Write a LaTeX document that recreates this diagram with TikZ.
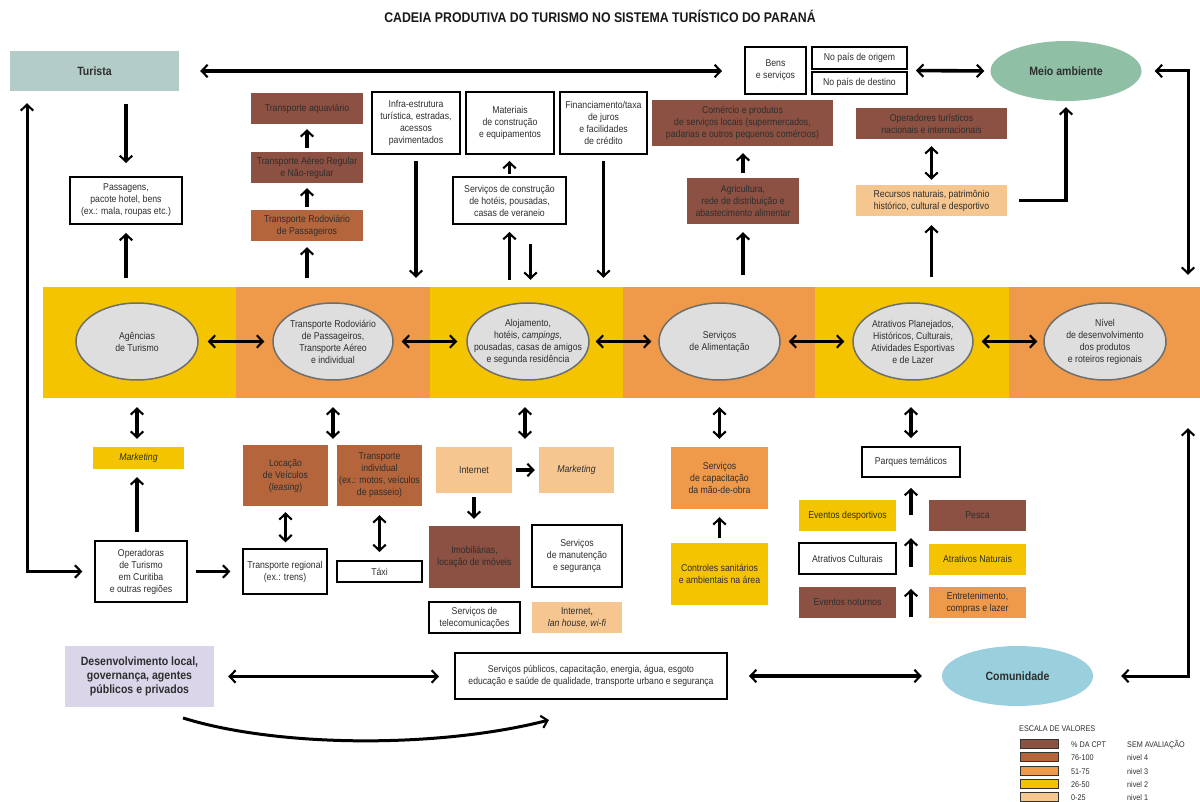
\documentclass[tikz,border=0pt]{standalone}
\usepackage{fontspec}
\setmainfont{Liberation Sans}[FakeStretch=0.88]
\usetikzlibrary{arrows.meta,shapes.geometric,calc}
\definecolor{txt}{HTML}{2E2E2E}
\definecolor{turC}{RGB}{180,204,200}
\definecolor{meioC}{RGB}{143,191,164}
\definecolor{comC}{RGB}{154,208,221}
\definecolor{desC}{RGB}{218,213,233}
\definecolor{brownC}{RGB}{140,81,66}
\definecolor{rustC}{RGB}{181,101,59}
\definecolor{orangeC}{RGB}{239,154,74}
\definecolor{yellowC}{RGB}{245,196,0}
\definecolor{peachC}{RGB}{245,198,144}
\definecolor{ellfill}{RGB}{222,222,222}
\definecolor{ellline}{RGB}{110,110,110}
\newcommand\fsn{\fontsize{9.9}{12}\selectfont}
\newcommand\fsb{\fontsize{12}{14}\selectfont\bfseries}
\tikzset{chev/.tip={Straight Barb[length=6pt,width=12.5pt,line width=2.1pt]}}
\begin{document}
\begin{tikzpicture}[x=1pt,y=-1pt,
  every node/.style={text=txt, align=center, inner sep=1pt, font=\fsn},
  bx/.style={rectangle, draw=black, line width=1.9pt, fill=white},
  tbx/.style={rectangle, draw=black, line width=1.2pt, fill=white},
  cbx/.style={rectangle, fill=#1},
  sz/.style n args={2}{minimum width=#1pt, minimum height=#2pt},
  ell/.style={ellipse, draw=ellline, line width=1.5pt, fill=ellfill},
  band/.style={rectangle, fill=#1, minimum height=111pt, inner sep=0pt},
  arr/.style={line width=3.6pt, -{chev}},
  darr/.style={line width=3.6pt, {chev}-{chev}},
  swatch/.style={rectangle, fill=#1, draw=black!80, line width=0.8pt, minimum width=38pt, minimum height=9pt, inner sep=0pt},
  legt/.style={anchor=west, font=\fontsize{8.2}{9}\selectfont, inner sep=0pt},
]
\useasboundingbox (0,0) rectangle (1200,802);

% title
\node[font=\fontsize{14}{16}\selectfont\bfseries, text=black!90] (title) at (600,16) {CADEIA PRODUTIVA DO TURISMO NO SISTEMA TURÍSTICO DO PARANÁ};

% band
\node[band=yellowC, minimum width=193pt] (b1) at (139.5,342.5) {};
\node[band=orangeC, minimum width=194pt] (b2) at (333,342.5) {};
\node[band=yellowC, minimum width=193pt] (b3) at (526.5,342.5) {};
\node[band=orangeC, minimum width=192pt] (b4) at (719,342.5) {};
\node[band=yellowC, minimum width=194pt] (b5) at (912,342.5) {};
\node[band=orangeC, minimum width=191pt] (b6) at (1104.5,342.5) {};

% ellipses in band
\node[ell, sz={122}{77}, label={[name=e1t]center:{Agências\\de Turismo}}] (e1) at (137,341.5) {};
\node[ell, sz={120}{77}, label={[name=e2t]center:{Transporte Rodoviário\\de Passageiros,\\Transporte Aéreo\\e individual}}] (e2) at (333,341.5) {};
\node[ell, sz={122}{77}, label={[name=e3t]center:{Alojamento,\\hotéis, \textit{campings},\\pousadas, casas de amigos\\e segunda residência}}] (e3) at (528,341.5) {};
\node[ell, sz={121}{77}, label={[name=e4t]center:{Serviços\\de Alimentação}}] (e4) at (719.5,341.5) {};
\node[ell, sz={120}{77}, label={[name=e5t]center:{Atrativos Planejados,\\Históricos, Culturais,\\Atividades Esportivas\\e de Lazer}}] (e5) at (913,341.5) {};
\node[ell, sz={122}{77}, label={[name=e6t]center:{Nível\\de desenvolvimento\\dos produtos\\e roteiros regionais}}] (e6) at (1105,341.5) {};

% top row
\node[cbx=turC, sz={169}{40}, font=\fsb] (turista) at (94.5,71) {Turista};
\node[bx, sz={61}{47}] (bens) at (775.5,70.5) {Bens\\e serviços};
\node[bx, sz={95}{22}] (origem) at (859.5,58) {No país de origem};
\node[bx, sz={95}{22}] (destino) at (859.5,83) {No país de destino};
\node[ellipse, fill=meioC, sz={151}{60}, font=\fsb] (meio) at (1066,71) {Meio ambiente};

% upper boxes
\node[bx, sz={112}{47}] (passagens) at (126,200.5) {Passagens,\\pacote hotel, bens\\(ex.: mala, roupas etc.)};
\node[cbx=brownC, sz={112}{31}] (aqua) at (307,108.5) {Transporte aquaviário};
\node[cbx=brownC, sz={112}{31}] (aereo) at (307,167.5) {Transporte Aéreo Regular\\e Não-regular};
\node[cbx=rustC, sz={112}{31}] (rodov) at (307,225.5) {Transporte Rodoviário\\de Passageiros};
\node[bx, sz={88}{62}] (infra) at (416,123) {Infra-estrutura\\turística, estradas,\\acessos\\pavimentados};
\node[bx, sz={88}{62}] (materiais) at (510,123) {Materiais\\de construção\\e equipamentos};
\node[bx, sz={87}{62}] (financ) at (603.5,123) {Financiamento/taxa\\de juros\\e facilidades\\de crédito};
\node[bx, sz={113}{47}] (servconstr) at (509.5,200.5) {Serviços de construção\\de hotéis, pousadas,\\casas de veraneio};
\node[cbx=brownC, sz={181}{46}] (comercio) at (742.5,123) {Comércio e produtos\\de serviços locais (supermercados,\\padarias e outros pequenos comércios)};
\node[cbx=brownC, sz={112}{46}] (agric) at (743,201) {Agricultura,\\rede de distribuição e\\abastecimento alimentar};
\node[cbx=brownC, sz={151}{31}] (operadores) at (931.5,123.5) {Operadores turísticos\\nacionais e internacionais};
\node[cbx=peachC, sz={151}{31}] (recursos) at (931.5,200.5) {Recursos naturais, patrimônio\\histórico, cultural e desportivo};

% lower boxes
\node[cbx=yellowC, sz={91}{22}] (mkt1) at (138.5,458) {\textit{Marketing}};
\node[tbx, sz={92}{61}] (operadoras) at (141,571.5) {Operadoras\\de Turismo\\em Curitiba\\e outras regiões};
\node[cbx=rustC, sz={85}{61}] (locacao) at (285.5,475.5) {Locação\\de Veículos\\(\textit{leasing})};
\node[cbx=rustC, sz={85}{61}] (transind) at (379.5,475.5) {Transporte\\individual\\(ex.: motos, veículos\\de passeio)};
\node[tbx, sz={84}{45}] (transreg) at (285,571.5) {Transporte regional\\(ex.: trens)};
\node[bx, sz={85}{21}] (taxi) at (379.5,571.5) {Táxi};
\node[cbx=peachC, sz={76}{46}] (internet) at (474,470) {Internet};
\node[cbx=peachC, sz={75}{46}] (mkt2) at (576.5,470) {\textit{Marketing}};
\node[cbx=brownC, sz={91}{62}] (imob) at (474.5,557) {Imobiliárias,\\locação de imóveis};
\node[tbx, sz={90}{62}] (manut) at (577,556) {Serviços\\de manutenção\\e segurança};
\node[bx, sz={91}{31}] (telecom) at (474.5,617.5) {Serviços de\\telecomunicações};
\node[cbx=peachC, sz={90}{31}] (lan) at (577,617.5) {Internet,\\\textit{lan house, wi-fi}};
\node[cbx=orangeC, sz={97}{62}] (capacit) at (719.5,478) {Serviços\\de capacitação\\da mão-de-obra};
\node[cbx=yellowC, sz={97}{62}] (controles) at (719.5,574) {Controles sanitários\\e ambientais na área};
\node[bx, sz={98}{30}] (parques) at (911,462) {Parques temáticos};
\node[cbx=yellowC, sz={97}{31}] (evdesp) at (847.5,515.5) {Eventos desportivos};
\node[cbx=brownC, sz={97}{31}] (pesca) at (977.5,515.5) {Pesca};
\node[bx, sz={97}{31}] (atcult) at (847.5,558.5) {Atrativos Culturais};
\node[cbx=yellowC, sz={97}{31}] (atnat) at (977.5,559) {Atrativos Naturais};
\node[cbx=brownC, sz={97}{31}] (evnot) at (847.5,602.5) {Eventos noturnos};
\node[cbx=orangeC, sz={97}{31}] (entret) at (977.5,602.5) {Entretenimento,\\compras e lazer};

% bottom row
\node[cbx=desC, sz={149}{61}, font=\fsb] (desenv) at (139.5,676.5) {Desenvolvimento local,\\governança, agentes\\públicos e privados};
\node[bx, sz={272}{46}, font=\fontsize{9.8}{11.2}\selectfont] (servpub) at (591,676) {Serviços públicos, capacitação, energia, água, esgoto\\educação e saúde de qualidade, transporte urbano e segurança};
\node[ellipse, fill=comC, sz={151}{60}, font=\fsb] (comunidade) at (1017.5,676) {Comunidade};

% coordinates for path corners and free ends
\coordinate (lc) at (27,571.5);
\coordinate (rc1) at (1188,71);
\coordinate (rc2) at (1188,676);
\coordinate (cvs) at (183,718);
\coordinate (cve) at (549,720);

% ---- connectors: top
\draw[darr, shorten <=21pt, shorten >=22pt] (turista.east) -- (turista.east -| bens.west);
\draw[darr, shorten <=8pt, shorten >=6pt] (origem.east |- bens.east) -- (meio.west);
\draw[darr, line width=3pt, shorten <=13pt, shorten >=12pt] (meio.east) -- (rc1) -- (rc1 |- b6.north);
\draw[arr, shorten <=13pt, shorten >=13pt] (passagens.north |- turista.south) -- (passagens.north);
\draw[arr, shorten <=9pt, shorten >=8pt] (passagens.south |- b1.north) -- (passagens.south);
\draw[darr, line width=3pt, shorten <=12pt, shorten >=12pt] (turista.south -| lc) -- (lc) -- (operadoras.west);

\draw[arr, shorten <=9pt, shorten >=6pt] (rodov.south |- b2.north) -- (rodov.south);
\draw[arr, shorten <=3pt, shorten >=5pt] (rodov.north) -- (aereo.south);
\draw[arr, shorten <=4pt, shorten >=5pt] (aereo.north) -- (aqua.south);

\draw[arr, shorten <=6pt, shorten >=9pt] (infra.south) -- (infra.south |- b2.north);
\draw[arr, shorten <=2pt, shorten >=6pt] (servconstr.north) -- (servconstr.north |- materiais.south);
\draw[arr, shorten <=7pt, shorten >=7pt] (servconstr.south |- b3.north) -- (servconstr.south);
\draw[arr, shorten <=19pt, shorten >=7pt] ([xshift=21pt]servconstr.south) -- ([xshift=21pt]servconstr.south |- b3.north);
\draw[arr, shorten <=6pt, shorten >=9pt] (financ.south) -- (financ.south |- b3.north);

\draw[arr, shorten <=12pt, shorten >=8pt] (agric.south |- b4.north) -- (agric.south);
\draw[arr, shorten <=5pt, shorten >=7pt] (agric.north) -- (agric.north |- comercio.south);
\draw[arr, shorten <=10pt, shorten >=9pt] (recursos.south |- b5.north) -- (recursos.south);
\draw[darr, shorten <=7pt, shorten >=5pt] (operadores.south) -- (recursos.north);
\draw[arr, shorten <=12pt, shorten >=6pt] (recursos.east) -| (meio.south);

% ---- connectors: band
\draw[darr, shorten <=9pt, shorten >=8pt] (e1.east) -- (e2.west);
\draw[darr, shorten <=8pt, shorten >=9pt] (e2.east) -- (e3.west);
\draw[darr, shorten <=6pt, shorten >=7pt] (e3.east) -- (e4.west);
\draw[darr, shorten <=8pt, shorten >=8pt] (e4.east) -- (e5.west);
\draw[darr, shorten <=8pt, shorten >=6pt] (e5.east) -- (e6.west);

% ---- connectors: below band
\draw[darr, shorten <=9pt, shorten >=8pt] (e1.south |- b1.south) -- (e1.south |- mkt1.north);
\draw[darr, shorten <=9pt, shorten >=6pt] (e2.south |- b2.south) -- (e2.south |- locacao.north);
\draw[darr, shorten <=9pt, shorten >=8pt] ([xshift=-3pt]e3.south |- b3.south) -- ([xshift=-3pt]e3.south |- internet.north);
\draw[darr, shorten <=9pt, shorten >=8pt] (capacit.north |- b4.south) -- (capacit.north);
\draw[darr, shorten <=9pt, shorten >=8pt] (parques.north |- b5.south) -- (parques.north);

\draw[arr, shorten <=8pt, shorten >=8pt] (e1.south |- operadoras.north) -- (e1.south |- mkt1.south);
\draw[arr, shorten <=8pt, shorten >=12pt] (operadoras.east) -- (transreg.west);
\draw[darr, shorten <=6pt, shorten >=6pt] (locacao.south) -- (locacao.south |- transreg.north);
\draw[darr, shorten <=9pt, shorten >=8pt] (transind.south) -- (taxi.north);
\draw[arr, shorten <=4pt, shorten >=4pt] (internet.east) -- (mkt2.west);
\draw[arr, shorten <=4pt, shorten >=7pt] (internet.south) -- (internet.south |- imob.north);
\draw[arr, shorten <=5pt, shorten >=8pt] (controles.north) -- (capacit.south);
\draw[arr, shorten <=16pt, shorten >=10pt] (evdesp.south -| parques.south) -- (parques.south);
\draw[arr, shorten <=8pt, shorten >=7pt] (atcult.south -| parques.south) -- (evdesp.south -| parques.south);
\draw[arr, shorten <=1pt, shorten >=14pt] (evnot.south -| parques.south) -- (atcult.south -| parques.south);

% ---- connectors: bottom
\draw[darr, shorten <=14pt, shorten >=15pt] (desenv.east) -- (desenv.east -| servpub.west);
\draw[darr, shorten <=21pt, shorten >=20pt] (servpub.east) -- (comunidade.west);
\draw[darr, line width=3pt, shorten <=28pt, shorten >=30pt] (comunidade.east) -- (rc2) -- (rc2 |- b6.south);
\draw[line width=3pt, -{chev}] (cvs) .. controls (280,748) and (440,748) .. (cve);

% ---- legend
\node[legt] (legtitle) at (1019,729) {ESCALA DE VALORES};
\node[swatch=brownC] (s0) at (1039,743.5) {};
\node[swatch=rustC] (s1) at (1039,757) {};
\node[swatch=orangeC] (s2) at (1039,770.5) {};
\node[swatch=yellowC] (s3) at (1039,784) {};
\node[swatch=peachC] (s4) at (1039,797) {};
\node[legt] (p0) at (1071,744.5) {\% DA CPT};
\node[legt] (p1) at (1071,758) {76-100};
\node[legt] (p2) at (1071,771.5) {51-75};
\node[legt] (p3) at (1071,785) {26-50};
\node[legt] (p4) at (1071,798) {0-25};
\node[legt] (n0) at (1127,744.5) {SEM AVALIAÇÃO};
\node[legt] (n1) at (1127,758) {nivel 4};
\node[legt] (n2) at (1127,771.5) {nivel 3};
\node[legt] (n3) at (1127,785) {nivel 2};
\node[legt] (n4) at (1127,798) {nivel 1};
\end{tikzpicture}
\end{document}
